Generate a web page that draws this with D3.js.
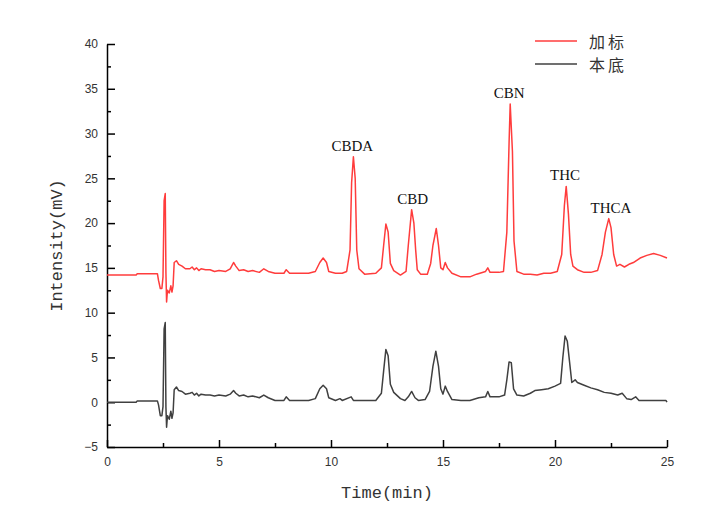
<!DOCTYPE html>
<html>
<head>
<meta charset="utf-8">
<script src="https://cdn.jsdelivr.net/npm/d3@7"></script>
<style>
  body { margin: 0; background: #fff; }
</style>
</head>
<body>
<script>
// ---- data ----
const spikedTime = [0, 1.3, 1.35, 2.25, 2.3, 2.38, 2.45, 2.5, 2.55, 2.6, 2.63, 2.66, 2.7, 2.78, 2.85, 2.9, 2.95, 3.0, 3.1, 3.2, 3.35, 3.5, 3.7, 3.8, 3.9, 4.0, 4.1, 4.2, 4.4, 4.6, 4.8, 5.0, 5.3, 5.5, 5.65, 5.75, 5.9, 6.1, 6.3, 6.5, 6.8, 7.0, 7.2, 7.5, 7.9, 8.0, 8.15, 8.6, 9.0, 9.3, 9.5, 9.65, 9.8, 9.9, 10.2, 10.5, 10.7, 10.85, 10.92, 11.0, 11.08, 11.15, 11.25, 11.5, 12.0, 12.25, 12.35, 12.45, 12.55, 12.65, 12.8, 13.1, 13.35, 13.45, 13.6, 13.7, 13.78, 13.85, 14.0, 14.3, 14.45, 14.55, 14.7, 14.8, 14.9, 15.0, 15.1, 15.2, 15.4, 15.8, 16.2, 16.5, 16.9, 17.0, 17.1, 17.5, 17.7, 17.85, 17.95, 18.0, 18.1, 18.17, 18.3, 18.6, 18.9, 19.2, 19.5, 19.8, 20.1, 20.3, 20.42, 20.5, 20.6, 20.7, 20.8, 21.0, 21.3, 21.6, 21.9, 22.1, 22.25, 22.4, 22.5, 22.62, 22.75, 22.9, 23.1, 23.3, 23.5, 23.8, 24.1, 24.4, 24.7, 25.0];
const spikedValue = [14.2, 14.2, 14.35, 14.35, 13.6, 12.7, 12.7, 14.0, 22.5, 23.3, 14.5, 11.2, 12.5, 12.2, 13.0, 12.3, 13.0, 15.6, 15.8, 15.4, 15.2, 14.9, 14.9, 15.1, 14.8, 15.0, 14.7, 14.9, 14.8, 14.8, 14.6, 14.7, 14.6, 14.9, 15.6, 15.2, 14.7, 14.8, 14.6, 14.7, 14.5, 14.9, 14.6, 14.4, 14.4, 14.8, 14.4, 14.4, 14.4, 14.6, 15.6, 16.1, 15.6, 14.6, 14.4, 14.4, 14.6, 17.0, 24.5, 27.4, 25.0, 17.0, 14.9, 14.3, 14.4, 15.0, 17.5, 19.9, 19.0, 15.5, 14.7, 14.2, 14.6, 17.5, 21.5, 20.0, 17.0, 14.8, 14.3, 14.3, 15.5, 17.5, 19.4, 17.5, 15.0, 14.8, 15.6, 15.0, 14.4, 14.0, 14.0, 14.3, 14.6, 15.0, 14.5, 14.5, 14.6, 19.0, 29.0, 33.3, 28.0, 18.0, 14.6, 14.3, 14.3, 14.2, 14.4, 14.4, 14.6, 16.5, 22.0, 24.1, 21.0, 16.5, 15.2, 14.8, 14.5, 14.5, 14.7, 16.5, 19.0, 20.5, 19.5, 16.5, 15.2, 15.4, 15.1, 15.4, 15.6, 16.1, 16.4, 16.6, 16.4, 16.1];

const blankTime = [0, 1.3, 1.35, 2.25, 2.3, 2.38, 2.45, 2.5, 2.55, 2.6, 2.63, 2.66, 2.7, 2.78, 2.85, 2.9, 2.95, 3.0, 3.1, 3.2, 3.35, 3.5, 3.7, 3.8, 3.9, 4.0, 4.1, 4.2, 4.4, 4.6, 4.8, 5.0, 5.3, 5.5, 5.65, 5.75, 5.9, 6.1, 6.3, 6.5, 6.8, 7.0, 7.2, 7.5, 7.9, 8.0, 8.15, 9.0, 9.3, 9.5, 9.65, 9.8, 9.9, 10.2, 10.4, 10.5, 10.9, 11.0, 11.5, 12.0, 12.25, 12.35, 12.45, 12.55, 12.65, 12.8, 13.1, 13.3, 13.45, 13.6, 13.75, 13.9, 14.2, 14.4, 14.55, 14.68, 14.8, 14.9, 15.0, 15.1, 15.2, 15.4, 15.8, 16.2, 16.6, 16.9, 17.0, 17.1, 17.5, 17.75, 17.85, 17.95, 18.05, 18.15, 18.3, 18.6, 18.9, 19.1, 19.4, 19.7, 20.0, 20.25, 20.35, 20.45, 20.55, 20.65, 20.75, 20.9, 21.0, 21.3, 21.6, 21.9, 22.2, 22.5, 22.8, 23.0, 23.2, 23.4, 23.6, 23.75, 24.5, 24.95, 25.0];
const blankValue = [0, 0, 0.15, 0.15, -0.3, -1.5, -1.5, -0.5, 8.2, 8.9, -0.5, -2.8, -1.5, -1.9, -1.0, -1.8, -1.2, 1.4, 1.7, 1.3, 1.2, 0.9, 1.0, 1.1, 0.8, 1.0, 0.7, 0.9, 0.8, 0.8, 0.7, 0.8, 0.7, 0.9, 1.3, 1.0, 0.7, 0.8, 0.6, 0.7, 0.5, 0.8, 0.5, 0.2, 0.2, 0.6, 0.2, 0.2, 0.4, 1.5, 1.9, 1.5, 0.5, 0.2, 0.4, 0.2, 0.6, 0.2, 0.2, 0.2, 1.0, 3.5, 5.9, 5.2, 2.0, 1.1, 0.4, 0.2, 0.6, 1.2, 0.5, 0.2, 0.3, 1.2, 4.0, 5.7, 4.0, 1.5, 0.9, 1.8, 1.2, 0.3, 0.2, 0.2, 0.5, 0.6, 1.2, 0.6, 0.6, 0.8, 2.5, 4.5, 4.4, 1.5, 0.8, 0.7, 1.0, 1.3, 1.4, 1.5, 1.8, 2.1, 5.0, 7.4, 6.8, 4.5, 2.2, 2.5, 2.2, 1.9, 1.6, 1.4, 1.1, 1.0, 0.8, 1.0, 0.4, 0.3, 0.6, 0.2, 0.2, 0.2, 0.0];

const peakNames = ["CBDA", "CBD", "CBN", "THC", "THCA"];
const peakTimes = [10.95, 13.65, 17.95, 20.45, 22.5];
const peakValues = [27.4, 21.5, 33.3, 24.1, 20.5];

const seriesNames = ["加标", "本底"];
const seriesColors = ["#ff3c3c", "#404040"];

const xTicks = [0, 5, 10, 15, 20, 25];
const yTicks = [-5, 0, 5, 10, 15, 20, 25, 30, 35, 40];

// ---- layout ----
const W = 712, H = 520;
const margin = {left: 107, right: 45, top: 44, bottom: 73};

const svg = d3.select("body").append("svg")
    .attr("width", W)
    .attr("height", H);

const x = d3.scaleLinear().domain([0, 25]).range([margin.left, W - margin.right]);
const y = d3.scaleLinear().domain([-5, 40]).range([H - margin.bottom, margin.top]);

// minor ticks first (inward)
const minorX = d3.range(0, 25.01, 2.5).filter(d => d % 5 !== 0);
const minorY = d3.range(-5, 40.01, 2.5).filter(d => d % 5 !== 0);

svg.append("g")
    .attr("transform", `translate(0,${y(-5)})`)
    .call(d3.axisBottom(x).tickValues(minorX).tickSize(-4).tickFormat(""))
    .call(g => g.select(".domain").remove())
    .selectAll("line").attr("stroke", "#000").attr("stroke-width", 1.5);

svg.append("g")
    .attr("transform", `translate(${x(0)},0)`)
    .call(d3.axisLeft(y).tickValues(minorY).tickSize(-4).tickFormat(""))
    .call(g => g.select(".domain").remove())
    .selectAll("line").attr("stroke", "#000").attr("stroke-width", 1.5);

// main axes
const xAxis = svg.append("g")
    .attr("transform", `translate(0,${y(-5)})`)
    .call(d3.axisBottom(x).tickValues(xTicks).tickSize(-7).tickSizeOuter(0).tickPadding(10));

const yAxis = svg.append("g")
    .attr("transform", `translate(${x(0)},0)`)
    .call(d3.axisLeft(y).tickValues(yTicks).tickSize(-8).tickSizeOuter(0).tickPadding(9)
      .tickFormat(d => d < 0 ? "\u2212" + Math.abs(d) : d));

[xAxis, yAxis].forEach(g => {
  g.select(".domain").attr("stroke", "#000").attr("stroke-width", 1.5);
  g.selectAll(".tick line").attr("stroke", "#000").attr("stroke-width", 1.5);
  g.selectAll("text")
    .attr("fill", "#333")
    .style("font-family", "'Liberation Sans', Arial, sans-serif")
    .style("font-size", "12px");
});

// axis titles
svg.append("text")
    .attr("x", (x(0) + x(25)) / 2)
    .attr("y", 493)
    .attr("text-anchor", "middle")
    .attr("dominant-baseline", "central")
    .attr("fill", "#333")
    .style("font-family", "'Liberation Mono', 'DejaVu Sans Mono', monospace")
    .style("font-size", "17px")
    .text("Time(min)");

svg.append("text")
    .attr("transform", `translate(57,${(y(-5) + y(40)) / 2}) rotate(-90)`)
    .attr("text-anchor", "middle")
    .attr("dominant-baseline", "central")
    .attr("fill", "#333")
    .style("font-family", "'Liberation Mono', 'DejaVu Sans Mono', monospace")
    .style("font-size", "17px")
    .text("Intensity(mV)");

// traces
const line = d3.line()
    .x(d => x(d[0]))
    .y(d => y(d[1]));

const spiked = d3.zip(spikedTime, spikedValue);
const blank = d3.zip(blankTime, blankValue);

svg.append("path")
    .datum(blank)
    .attr("fill", "none")
    .attr("stroke", seriesColors[1])
    .attr("stroke-width", 1.5)
    .attr("stroke-linejoin", "round")
    .attr("d", line);

svg.append("path")
    .datum(spiked)
    .attr("fill", "none")
    .attr("stroke", seriesColors[0])
    .attr("stroke-width", 1.5)
    .attr("stroke-linejoin", "round")
    .attr("d", line);

// peak labels
svg.append("g")
  .selectAll("text")
  .data(peakNames)
  .join("text")
    .attr("x", (d, i) => x(peakTimes[i]))
    .attr("y", (d, i) => y(peakValues[i]) - 6)
    .attr("text-anchor", "middle")
    .attr("fill", "#111")
    .style("font-family", "'Liberation Serif', 'Times New Roman', serif")
    .style("font-size", "15px")
    .text(d => d);

// legend
const legend = svg.append("g").attr("transform", "translate(535,41)");
seriesNames.forEach((name, i) => {
  const row = legend.append("g").attr("transform", `translate(0,${i * 23})`);
  row.append("line")
      .attr("x1", 0).attr("x2", 42)
      .attr("stroke", seriesColors[i])
      .attr("stroke-width", 1.5);
  row.append("text")
      .attr("x", 54)
      .attr("dominant-baseline", "central")
      .attr("fill", "#333")
      .style("font-family", "'Noto Sans CJK SC', sans-serif")
      .style("font-size", "16px")
      .style("letter-spacing", "3px")
      .text(name);
});
</script>
</body>
</html>
